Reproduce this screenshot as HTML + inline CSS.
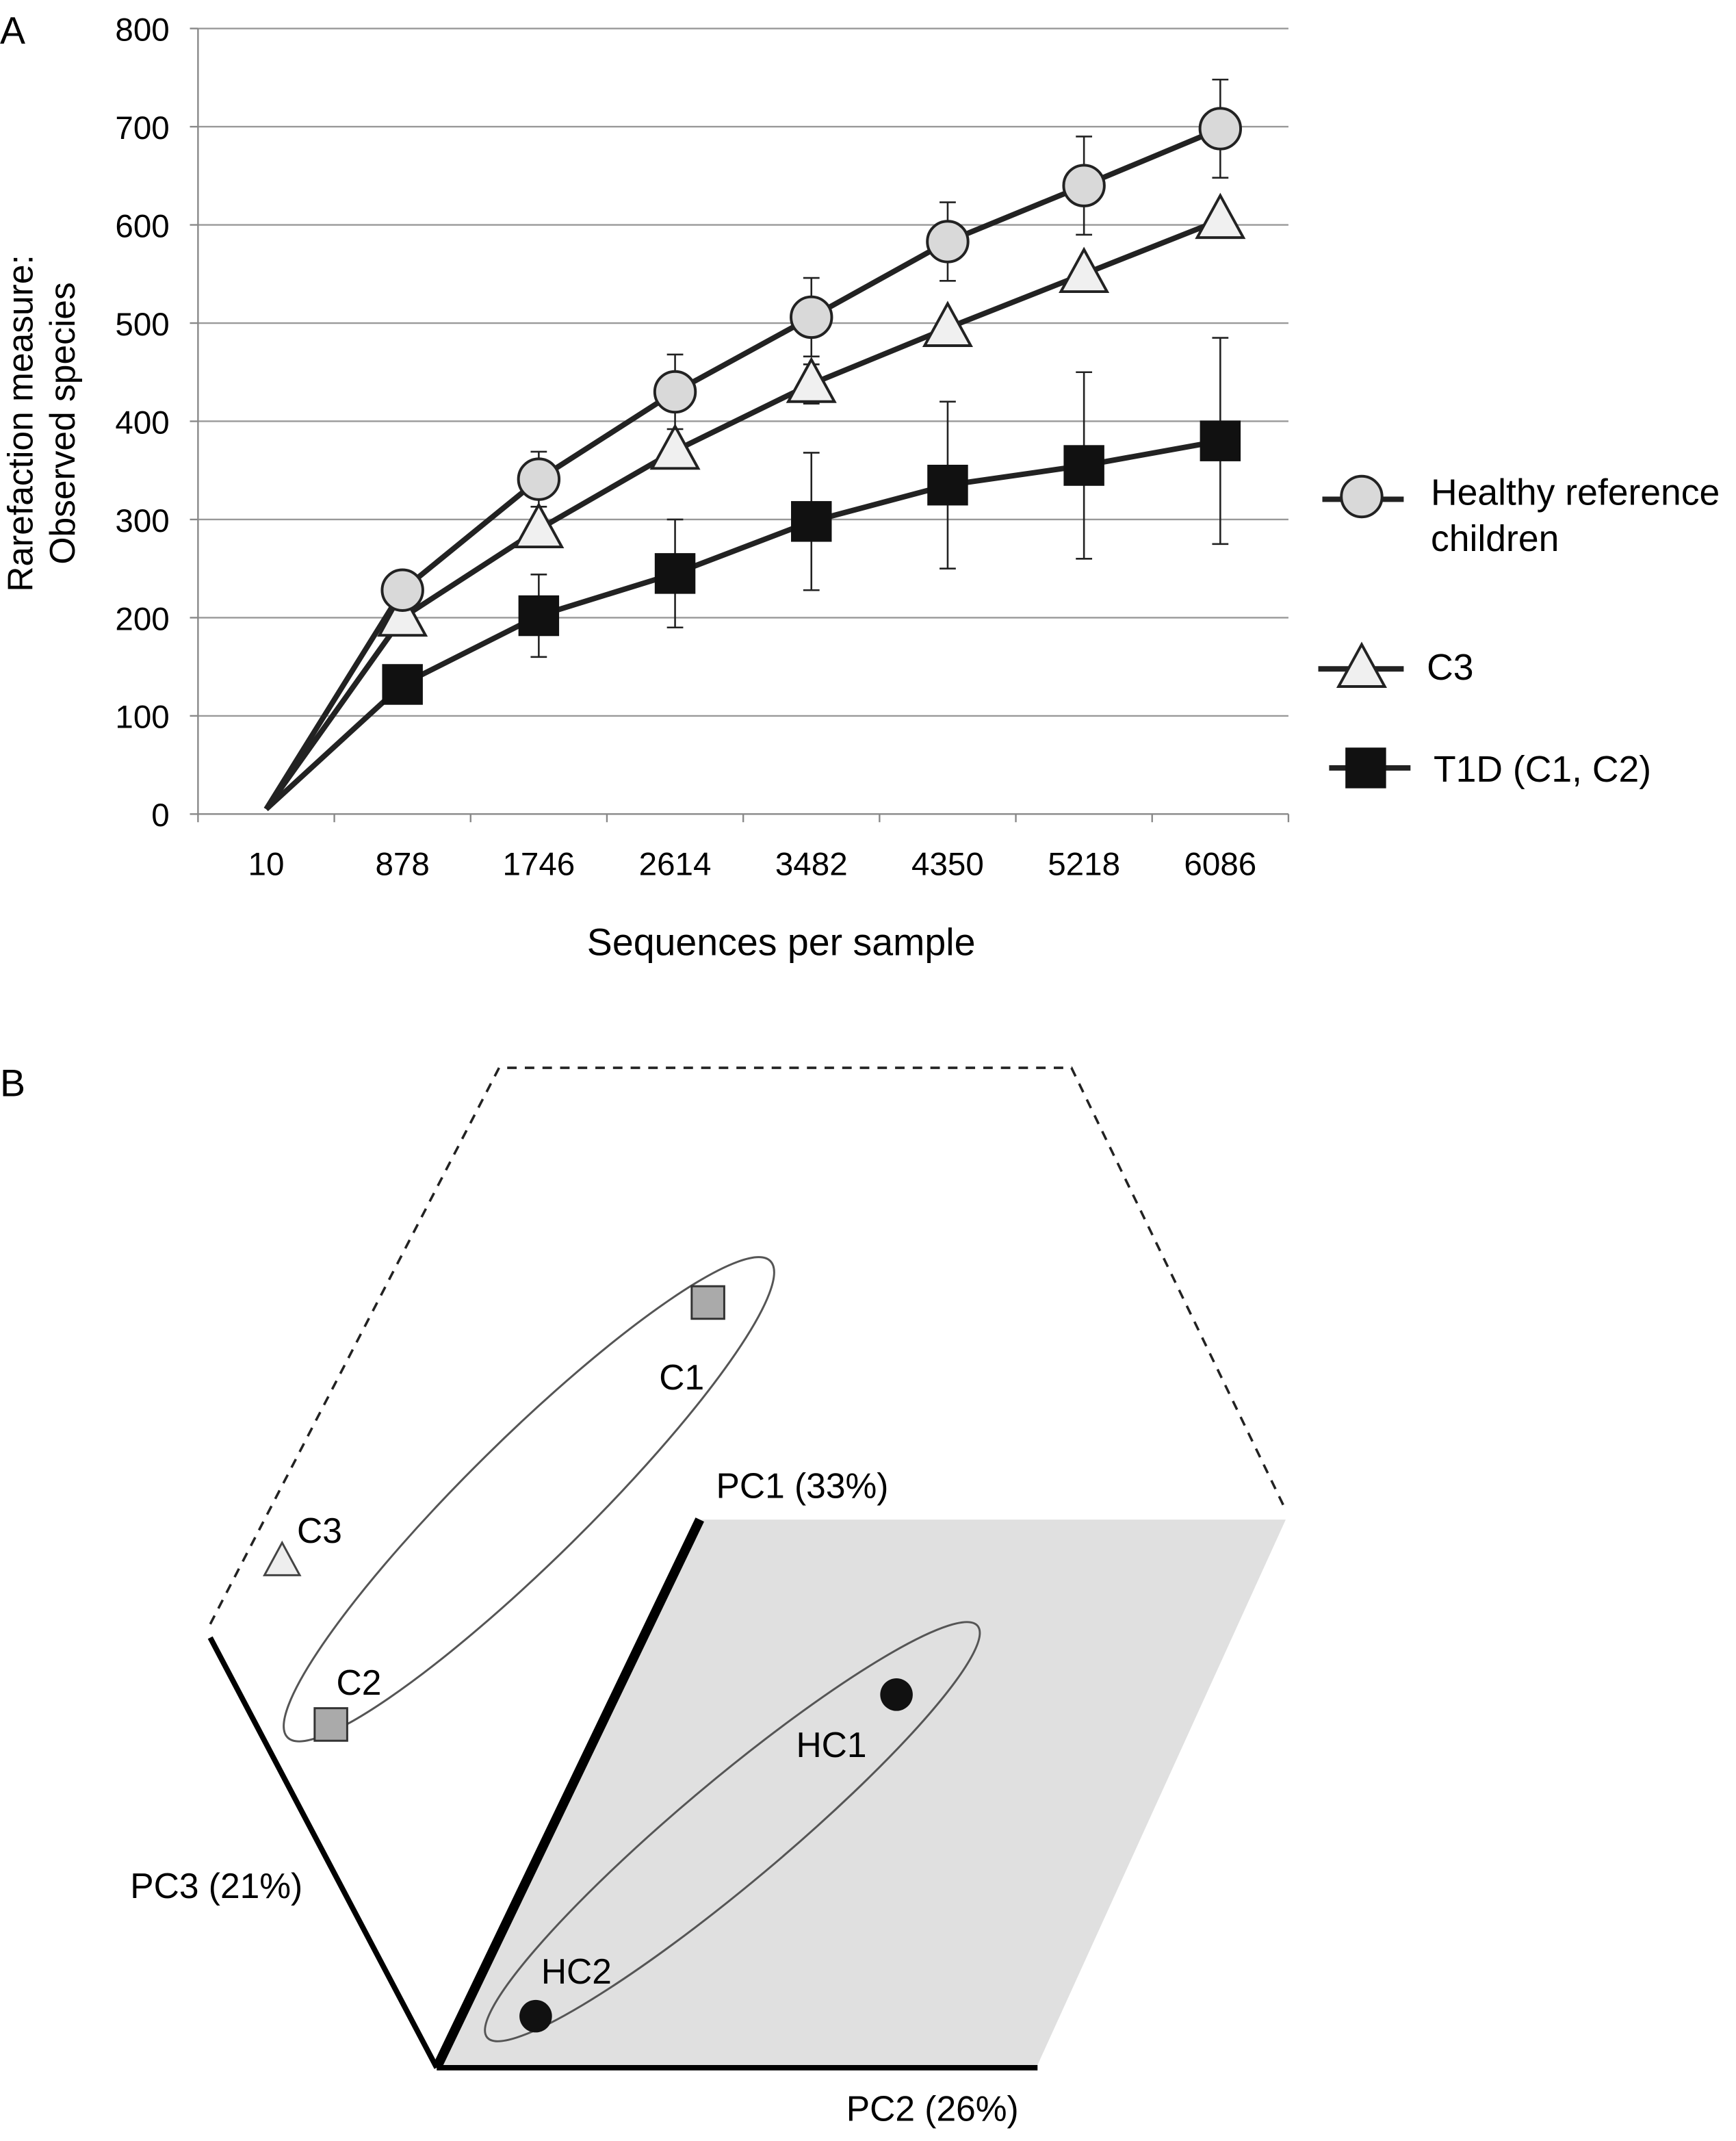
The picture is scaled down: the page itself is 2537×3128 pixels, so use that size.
<!DOCTYPE html>
<html><head><meta charset="utf-8"><style>
html,body{margin:0;padding:0;background:#fff}
svg{display:block;font-family:"Liberation Sans",sans-serif}
</style></head><body>
<svg id="fig" width="2537" height="3128" viewBox="0 0 1280 1578" preserveAspectRatio="none" xmlns="http://www.w3.org/2000/svg">
<g id="panelA">
<text x="0" y="32" font-size="28">A</text>
<g id="grid"></g>
<g id="axes"></g>
<g id="series"></g>
<text transform="translate(24,312) rotate(-90)" text-anchor="middle" font-size="26">Rarefaction measure:</text>
<text transform="translate(55,312) rotate(-90)" text-anchor="middle" font-size="26">Observed species</text>
<text x="576" y="704" text-anchor="middle" font-size="28">Sequences per sample</text>
<g>
<g>
<line x1="975" y1="368" x2="1035" y2="368" stroke="#222" stroke-width="4"/>
<circle cx="1004" cy="366" r="15" fill="#d9d9d9" stroke="#222" stroke-width="2"/>
<text x="1055" y="372" font-size="27">Healthy reference</text>
<text x="1055" y="406" font-size="27">children</text></g>
<g>
<line x1="972" y1="493" x2="1035" y2="493" stroke="#222" stroke-width="4"/>
<polygon points="1004,475 1021,506 987,506" fill="#f0f0f0" stroke="#222" stroke-width="2"/>
<text x="1052" y="501" font-size="27">C3</text></g>
<g>
<line x1="980" y1="566" x2="1040" y2="566" stroke="#222" stroke-width="4"/>
<rect x="992" y="551" width="30" height="30" fill="#111"/>
<text x="1057" y="576" font-size="27">T1D (C1, C2)</text></g>
</g>
</g>
<g id="panelB">
<text x="0" y="808" font-size="28">B</text>
<polygon points="516,1120 948,1120 765,1522 325,1522" fill="#e0e0e0"/>
<polyline points="155,1197 368,787 790,787 948,1113" fill="none" stroke="#222" stroke-width="1.8" stroke-dasharray="7,6"/>
<line x1="516" y1="1120" x2="322" y2="1524" stroke="#000" stroke-width="7"/>
<line x1="155" y1="1207" x2="322" y2="1524" stroke="#000" stroke-width="4"/>
<line x1="322" y1="1524" x2="765" y2="1524" stroke="#000" stroke-width="4"/>
<ellipse cx="390" cy="1105" rx="250" ry="45" transform="rotate(-44.6 390 1105)" fill="none" stroke="#555" stroke-width="1.5"/>
<ellipse cx="540" cy="1350" rx="236" ry="38" transform="rotate(-40 540 1350)" fill="none" stroke="#555" stroke-width="1.5"/>
<rect x="510" y="948" width="24" height="24" fill="#aaa" stroke="#333" stroke-width="1.5"/>
<text x="486" y="1024" font-size="26">C1</text>
<polygon points="208,1137 221,1161 195,1161" fill="#eee" stroke="#444" stroke-width="1.5"/>
<text x="219" y="1137" font-size="26">C3</text>
<rect x="232" y="1259" width="24" height="24" fill="#aaa" stroke="#333" stroke-width="1.5"/>
<text x="248" y="1249" font-size="26">C2</text>
<circle cx="661" cy="1249" r="12" fill="#111"/>
<text x="587" y="1295" font-size="26">HC1</text>
<circle cx="395" cy="1486" r="12" fill="#111"/>
<text x="399" y="1462" font-size="26">HC2</text>
<text x="528" y="1104" font-size="26">PC1 (33%)</text>
<text x="96" y="1399" font-size="26">PC3 (21%)</text>
<text x="624" y="1563" font-size="26">PC2 (26%)</text>
</g>
</svg>
<script>
const categories = ["10","878","1746","2614","3482","4350","5218","6086"];
const healthyValues = [5,228,341,430,506,583,640,698];
const healthyErrors = [0,0,28,38,40,40,50,50];
const c3Values = [5,200,290,370,438,495,550,605];
const c3Errors = [0,0,0,0,20,0,0,0];
const t1dValues = [5,132,202,245,298,335,355,380];
const t1dErrors = [0,15,42,55,70,85,95,105];
const yTicks = [0,100,200,300,400,500,600,700,800];

const NS="http://www.w3.org/2000/svg";
const X0=146,X1=950,Y0=600,Y1=21,YMAX=800;
const slot=(X1-X0)/categories.length;
function xs(i){return X0+slot*(i+0.5);}
function ys(v){return Y0-(Y0-Y1)*v/YMAX;}
function mk(tag,attrs,parent){const e=document.createElementNS(NS,tag);for(const k in attrs)e.setAttribute(k,attrs[k]);parent.appendChild(e);return e;}
const grid=document.getElementById('grid'),axes=document.getElementById('axes'),ser=document.getElementById('series');
yTicks.forEach(t=>{
  if(t>0){const l=mk('line',{x1:X0,x2:X1,y1:ys(t),y2:ys(t),stroke:'#999','stroke-width':1.2},grid);
  
  }
  const tx=mk('text',{x:125,y:ys(t)+9,'text-anchor':'end','font-size':24},axes);tx.textContent=t;
  
  
  const tk=mk('line',{x1:X0-6,x2:X0,y1:ys(t),y2:ys(t),stroke:'#888','stroke-width':1.2},axes);
  
  
});
const ya=mk('line',{x1:X0,x2:X0,y1:Y1,y2:Y0,stroke:'#888','stroke-width':1.2},axes);


const xa=mk('line',{x1:X0,x2:X1,y1:Y0,y2:Y0,stroke:'#888','stroke-width':1.2},axes);


for(let i=0;i<=categories.length;i++){const tk=mk('line',{x1:X0+slot*i,x2:X0+slot*i,y1:Y0,y2:Y0+6,stroke:'#888','stroke-width':1.2},axes);
  
  }
categories.forEach((c,i)=>{const tx=mk('text',{x:xs(i),y:645,'text-anchor':'middle','font-size':24},axes);tx.textContent=c;
  
  });

function drawSeries(name,vals,errs,shape){
  const g=mk('g',{},ser);
  
  
  vals.forEach((v,i)=>{if(errs[i]>0){const e=mk('line',{x1:xs(i),x2:xs(i),y1:ys(v+errs[i]),y2:ys(v-errs[i]),stroke:'#222','stroke-width':1.3},g);
    
    
    [v+errs[i],v-errs[i]].forEach(w=>{const c=mk('line',{x1:xs(i)-6,x2:xs(i)+6,y1:ys(w),y2:ys(w),stroke:'#222','stroke-width':1.3},g);
      
      });}});
  const pl=mk('polyline',{points:vals.map((v,i)=>xs(i)+','+ys(v)).join(' '),fill:'none',stroke:'#222','stroke-width':4},g);
  
  
  vals.forEach((v,i)=>{if(i===0)return;const x=xs(i),y=ys(v);let m;
    if(shape==='circle')m=mk('circle',{cx:x,cy:y,r:15,fill:'#d9d9d9',stroke:'#222','stroke-width':2},g);
    else if(shape==='tri')m=mk('polygon',{points:`${x},${y-18} ${x+17},${y+13} ${x-17},${y+13}`,fill:'#f0f0f0',stroke:'#222','stroke-width':2},g);
    else m=mk('rect',{x:x-15,y:y-15,width:30,height:30,fill:'#111'},g);
    
    });
}
drawSeries('t1d',t1dValues,t1dErrors,'sq');
drawSeries('c3',c3Values,c3Errors,'tri');
drawSeries('healthy',healthyValues,healthyErrors,'circle');
</script>
</body></html>
